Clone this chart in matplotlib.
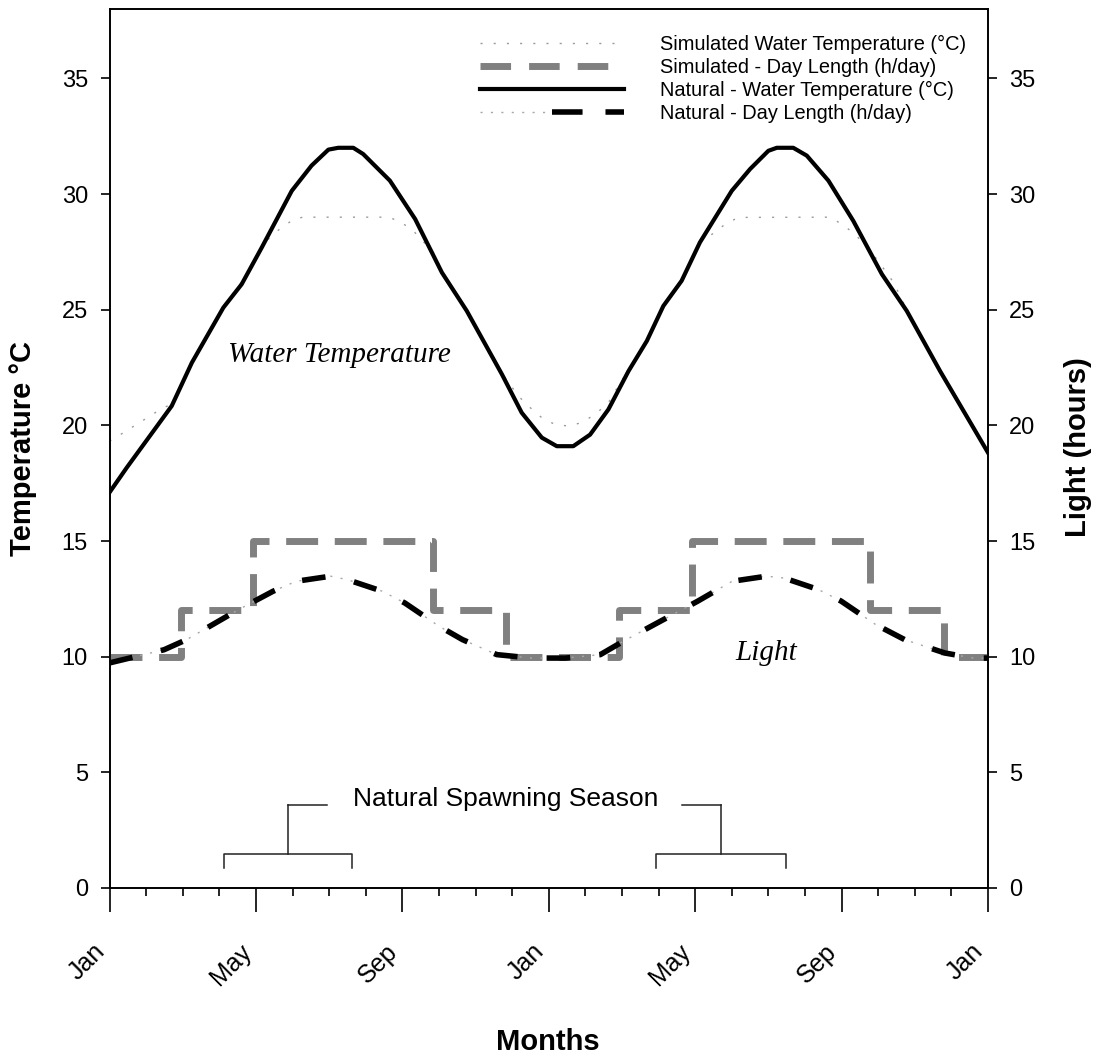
import matplotlib
matplotlib.use("Agg")
import matplotlib.pyplot as plt
from matplotlib.lines import Line2D
from matplotlib.legend_handler import HandlerTuple

plt.rcParams['font.family'] = ['Liberation Sans', 'DejaVu Sans']
plt.rcParams['lines.scale_dashes'] = False

# months counted from January of the first year (0 = Jan, 12 = Jan, 24 = Jan)
nat_temp_month = [0, 0.47, 1.70, 2.25, 3.11, 3.61, 4.16, 4.98, 5.52, 5.98, 6.25, 6.66,
                  6.93, 7.66, 8.35, 9.08, 9.76, 10.72, 11.26, 11.81, 12.22, 12.67, 13.13,
                  13.63, 14.18, 14.68, 15.13, 15.63, 16.13, 17.0, 17.5, 18.0, 18.23, 18.68,
                  19.05, 19.64, 20.32, 21.1, 21.78, 22.69, 23.6, 24.0]
nat_temp = [17.1, 18.17, 20.84, 22.71, 25.09, 26.1, 27.69, 30.14, 31.23, 31.92, 32.0, 32.0,
            31.73, 30.58, 28.92, 26.61, 24.95, 22.21, 20.55, 19.47, 19.1, 19.1, 19.6,
            20.69, 22.35, 23.65, 25.16, 26.25, 27.91, 30.14, 31.08, 31.87, 32.0, 32.0,
            31.66, 30.58, 28.84, 26.54, 24.95, 22.35, 19.9, 18.82]

sim_temp_month = [0, 0.38, 0.74, 1.1, 1.47, 1.70, 2.25, 3.11, 3.61, 4.16, 4.34, 4.7, 5.07,
                  5.3, 7.62, 7.89, 8.26, 8.89, 9.08, 9.76, 10.72, 11.17, 11.44, 11.81, 12.17,
                  12.54, 12.9, 13.27, 13.63, 13.86, 14.18, 14.68, 15.13, 15.63, 16.13, 16.5,
                  16.82, 17.18, 19.69, 20.0, 20.37, 20.96, 21.42, 21.78, 22.69, 23.6, 24.0]
sim_temp = [19.32, 19.68, 20.04, 20.4, 20.77, 20.9, 22.75, 25.15, 26.2, 27.7, 28.05, 28.56,
            28.94, 29.0, 29.0, 28.84, 28.48, 27.4, 26.65, 25.0, 22.25, 21.27, 20.84, 20.33,
            20.04, 19.97, 20.12, 20.48, 20.98, 21.6, 22.4, 23.7, 25.2, 26.3, 27.95, 28.3,
            28.7, 28.99, 29.0, 28.7, 28.27, 27.19, 26.18, 25.0, 22.4, 19.95, 18.85]

nat_day_month = [0, 1.49, 2.11, 3.52, 4.47, 5.1, 6.04, 6.5, 7.45, 8.07, 9.01, 9.64, 10.58,
                 11.52, 12.46, 13.41, 14.03, 15.13, 16.07, 17.01, 17.95, 18.43, 19.37,
                 19.99, 20.93, 21.72, 22.82, 23.6, 24.0]
nat_day = [9.73, 10.3, 10.74, 12.03, 12.83, 13.26, 13.48, 13.33, 12.83, 12.32, 11.31, 10.74,
           10.09, 9.94, 9.94, 10.09, 10.66, 11.6, 12.4, 13.26, 13.48, 13.4, 12.9, 12.4,
           11.39, 10.74, 10.16, 9.94, 9.94]

sim_day_month = [0, 1.96, 3.92, 8.83, 10.82, 13.91, 15.92, 20.78, 22.79, 24]
sim_day = [10, 12, 15, 12, 10, 12, 15, 12, 10, 10]

spawn_seasons = [(3.12, 6.63), (14.94, 18.47)]

month_ticks = [0, 4, 8, 12, 16, 20, 24]
month_labels = ['Jan', 'May', 'Sep', 'Jan', 'May', 'Sep', 'Jan']

legend_labels = ['Simulated Water Temperature (°C)',
                 'Simulated - Day Length (h/day)',
                 'Natural - Water Temperature (°C)',
                 'Natural - Day Length (h/day)']

W, H = 1098, 1059
fig = plt.figure(figsize=(W / 100, H / 100), dpi=100)
ax = fig.add_axes([109.5 / W, 1 - 888 / H, (988 - 109.5) / W, (888 - 9) / H])
ax2 = ax.twinx()

# temperature
ax.plot(sim_temp_month, sim_temp, color='#9b9b9b', lw=1.0, ls=(0, (1.5, 8)))
ax.plot(nat_temp_month, nat_temp, color='black', lw=3.0, solid_joinstyle='round')

# day length
ax2.step(sim_day_month, sim_day, where='post', color='#808080', lw=5,
         ls=(0, (23, 12)), dash_capstyle='butt', dash_joinstyle='round')
ax2.plot(nat_day_month, nat_day, color='#a8a8a8', lw=1.0, ls=(0, (1.5, 6)))
ax2.plot(nat_day_month, nat_day, color='black', lw=4, ls=(0, (17, 21)),
         dash_capstyle='butt')

# spawning season brackets
text_x = 10.82
for a, b in spawn_seasons:
    c = (a + b) / 2
    ax.plot([a, a, b, b], [0.85, 1.47, 1.47, 0.85], color='#222222', lw=1.1)
    ax.plot([c, c], [1.47, 3.57], color='#222222', lw=1.1)
    d = 1.07 if text_x > c else -1.07
    ax.plot([c, c + d], [3.57, 3.57], color='#222222', lw=1.1)
ax.text(text_x, 3.56, 'Natural Spawning Season', fontsize=19, ha='center', va='baseline')

ax.text(6.27, 22.73, 'Water Temperature', family='Liberation Serif', style='italic',
        fontsize=21, ha='center', va='baseline')
ax.text(17.94, 9.84, 'Light', family='Liberation Serif', style='italic',
        fontsize=21, ha='center', va='baseline')

# axes
for a_ in (ax, ax2):
    a_.set_ylim(0, 38)
    a_.set_yticks(range(0, 40, 5))
    for s in a_.spines.values():
        s.set_linewidth(1.2)
ax.set_xlim(0, 24)
ax.set_xticks(month_ticks)
ax.set_xticklabels(month_labels, rotation=45, ha='right')
ax.set_xticks(range(25), minor=True)
ax.tick_params(axis='x', which='major', length=17, width=1.2, pad=20, labelsize=18)
ax.tick_params(axis='x', which='minor', length=5.5, width=1.2)
ax.tick_params(axis='y', length=6.5, width=1.2, pad=9, labelsize=17)
ax2.tick_params(axis='y', length=6.5, width=1.2, pad=8.6, labelsize=17)

fig.text(23 / W, 1 - 449 / H, 'Temperature °C', rotation=90, ha='center', va='center',
         fontsize=21, fontweight='bold')
fig.text(1078 / W, 1 - 447 / H, 'Light (hours)', rotation=90, ha='center', va='center',
         fontsize=21, fontweight='bold')
fig.text(548 / W, 1 - 1042 / H, 'Months', ha='center', va='center',
         fontsize=21, fontweight='bold')

# legend
h1 = Line2D([], [], color='#9b9b9b', lw=1.0, ls=(0, (1.5, 8)))
h2 = Line2D([], [], color='#808080', lw=5, ls=(0, (22, 13)), dash_capstyle='butt')
h3 = Line2D([], [], color='black', lw=3.0)
h4a = Line2D([], [], color='#a8a8a8', lw=1.0, ls=(0, (1.5, 6)))
h4b = Line2D([], [], color='black', lw=4, ls=(0, (22, 16.5)), dash_capstyle='butt')
fig.legend([h1, h2, h3, (h4a, h4b)], legend_labels,
           handler_map={tuple: HandlerTuple(ndivide=None, pad=0)},
           loc='upper right', bbox_to_anchor=(966 / W, 1 - 35 / H),
           frameon=False, fontsize=14.4, handlelength=7.2, handletextpad=1.8,
           labelspacing=0.2, borderpad=0, borderaxespad=0)

fig.savefig('out.png', dpi=100)
